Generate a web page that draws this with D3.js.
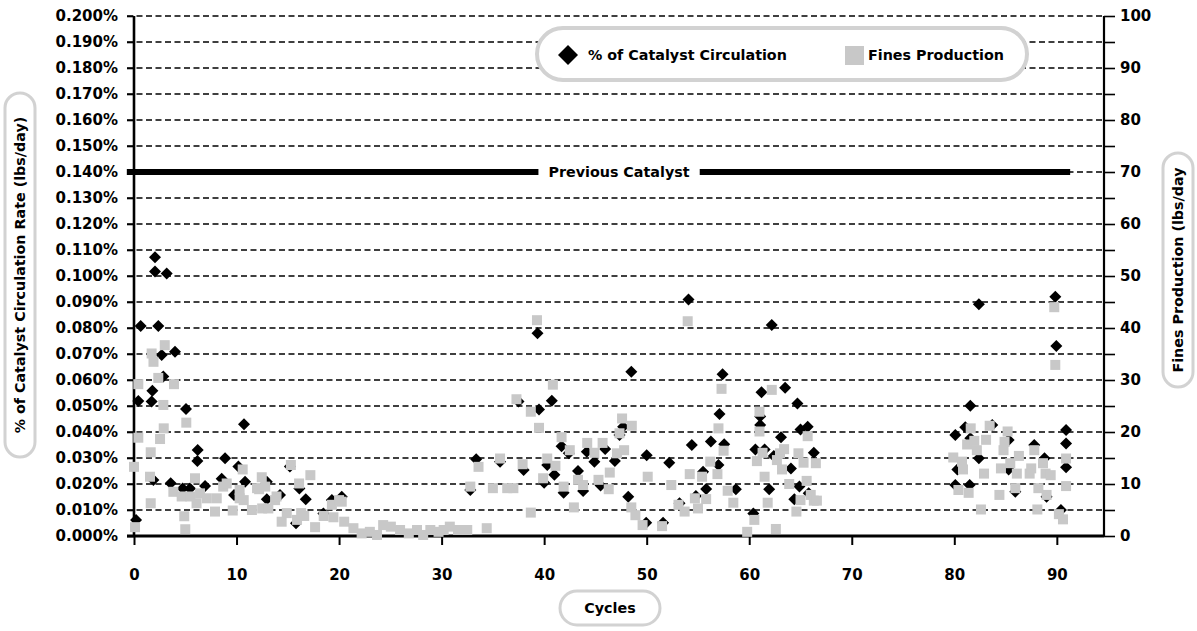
<!DOCTYPE html>
<html><head><meta charset="utf-8">
<script src="https://cdn.jsdelivr.net/npm/d3@7"></script>
<style>
html,body{margin:0;padding:0;background:#fff;}
svg{display:block;font-family:"DejaVu Sans",sans-serif;font-weight:bold;}
</style></head>
<body><svg id="chart" width="1197" height="631"></svg>
<script>
// ---- data (cycle, value) ----
const catalystCirculation = [
[0.2,0.0062],[0.42,0.0519],[0.65,0.0808],[1.72,0.0517],[1.79,0.0559],[1.89,0.0215],[2.05,0.1072],[2.05,0.1017],
[2.37,0.0808],[2.7,0.0696],[2.86,0.0613],[3.19,0.101],[3.58,0.0203],[4.0,0.0709],[4.75,0.0183],[5.07,0.0488],
[5.46,0.0183],[6.18,0.0288],[6.21,0.0331],[6.93,0.0192],[8.55,0.022],[8.88,0.0299],[9.76,0.0158],[10.18,0.0267],
[10.73,0.043],[10.83,0.0209],[12.95,0.0209],[12.95,0.0141],[14.24,0.0158],[15.2,0.0267],[15.8,0.0049],[16.13,0.0183],
[16.75,0.0141],[18.47,0.0087],[19.3,0.0138],[20.26,0.0151],[32.8,0.0177],[33.37,0.0295],[35.7,0.0286],[37.5,0.0517],
[38.0,0.0254],[39.35,0.078],[39.5,0.0487],[40.0,0.0205],[40.3,0.0273],[40.75,0.052],[41.0,0.0236],[41.7,0.0345],
[41.9,0.0166],[42.4,0.0318],[43.3,0.025],[43.8,0.0173],[44.16,0.0324],[44.9,0.0286],[45.5,0.0194],[45.95,0.0335],
[46.9,0.0288],[47.35,0.0388],[47.7,0.042],[48.2,0.0151],[48.5,0.0632],[49.95,0.0051],[50.0,0.0311],[51.6,0.0051],
[52.2,0.0282],[53.2,0.0126],[54.08,0.091],[54.4,0.035],[54.8,0.0154],[55.5,0.0247],[55.8,0.0181],[56.26,0.0363],
[57.0,0.0273],[57.1,0.0469],[57.4,0.0622],[57.56,0.0353],[58.7,0.018],[60.4,0.0087],[60.6,0.0333],[61.07,0.046],
[61.07,0.0427],[61.2,0.0553],[61.5,0.0333],[61.95,0.018],[62.2,0.0812],[62.4,0.0308],[63.1,0.038],[63.5,0.057],
[64.07,0.026],[64.4,0.0141],[64.7,0.051],[64.9,0.019],[65.0,0.041],[65.7,0.042],[65.8,0.0164],[66.3,0.032],
[80.1,0.0388],[80.1,0.0196],[80.3,0.0256],[81.07,0.0418],[81.5,0.0196],[81.56,0.0501],[81.56,0.0376],[82.4,0.0299],
[82.4,0.0891],[83.7,0.0427],[85.3,0.0369],[85.3,0.0256],[85.95,0.017],[87.8,0.035],[88.8,0.0299],[89.0,0.0151],
[89.85,0.092],[89.95,0.0731],[90.4,0.01],[90.9,0.0408],[90.9,0.0356],[90.9,0.0264]
];
const finesProduction = [
[0,13.3],[0.1,1.7],[0.42,29.2],[0.42,18.9],[1.56,11.4],[1.63,16.1],[1.63,6.3],[1.72,35.1],[1.9,33.5],[2.37,30.4],
[2.54,18.65],[2.86,25.2],[2.9,20.7],[3.0,36.7],[3.84,8.5],[3.9,29.2],[4.65,7.6],[4.9,3.8],[5.0,1.3],[5.1,21.8],
[5.5,7.6],[5.95,11.1],[6.1,6.3],[6.44,8.2],[7.1,7.25],[7.9,4.7],[8.07,7.25],[8.7,9.5],[9.04,10.1],[9.63,4.9],
[10.3,8.85],[10.3,7.25],[10.6,12.8],[10.7,6.9],[11.5,5.0],[12.0,9.2],[12.2,9.0],[12.46,11.3],[12.8,9.5],[12.5,5.3],
[13.1,5.3],[13.76,6.9],[13.9,7.6],[14.4,2.75],[14.9,4.4],[15.3,13.65],[15.9,3.1],[16.1,10.1],[16.3,4.4],[16.6,3.85],
[17.2,11.7],[17.66,1.7],[18.5,3.85],[19.3,6.0],[19.45,3.6],[20.0,6.9],[20.26,6.6],[20.5,2.75],[21.4,1.5],[22.2,0.5],
[23.0,0.8],[23.7,0.2],[24.3,2.1],[25.05,1.8],[25.95,1.15],[26.8,0.5],[27.6,1.15],[28.2,0.2],[28.9,1.15],[29.7,0.8],
[30.2,1.15],[30.8,1.8],[31.6,1.15],[32.5,1.15],[32.8,9.5],[33.6,13.3],[34.4,1.5],[35.0,9.2],[35.7,14.9],[36.4,9.2],
[37.0,9.2],[37.3,26.3],[37.9,13.8],[38.7,23.9],[38.7,4.5],[39.3,41.5],[39.5,20.8],[39.9,11.1],[40.3,14.9],[40.85,29.1],
[41.1,13.5],[41.7,19.0],[41.9,9.5],[42.5,16.5],[42.9,5.5],[43.3,10.8],[43.8,9.8],[44.2,17.9],[44.9,16.0],[45.3,10.8],
[45.7,17.9],[46.3,9.0],[46.4,12.2],[47.1,15.9],[47.35,19.75],[47.6,22.6],[47.8,16.5],[48.5,5.5],[48.55,21.2],[48.9,4.0],
[49.6,2.1],[50.1,11.4],[51.5,1.9],[52.4,9.8],[53.1,6.0],[53.7,4.7],[54.0,41.3],[54.2,11.9],[54.7,7.25],[55.0,5.3],
[55.4,11.4],[55.8,7.1],[56.2,14.3],[56.9,11.9],[57.0,20.7],[57.3,28.3],[57.5,16.4],[57.9,8.7],[58.45,6.4],[59.8,0.8],
[60.5,3.1],[60.75,14.4],[61.0,23.9],[61.0,20.1],[61.3,16.0],[61.5,11.4],[61.8,6.4],[62.2,28.1],[62.6,1.35],[62.7,14.6],
[63.0,15.9],[63.2,12.8],[63.4,16.7],[63.9,10.0],[64.6,4.7],[64.8,15.9],[65.0,6.9],[65.3,14.1],[65.6,10.6],[65.7,19.2],
[66.0,7.9],[66.3,6.8],[66.5,14.0],[66.6,6.8],[79.9,15.1],[80.4,8.85],[80.75,14.3],[80.85,12.8],[81.25,17.6],[81.4,8.3],
[81.6,20.7],[81.95,18.3],[82.2,16.5],[82.6,5.1],[82.9,12.0],[83.1,18.5],[83.45,21.2],[84.4,7.9],[84.55,13.0],[84.8,16.5],
[84.9,18.1],[85.2,20.1],[85.46,14.0],[85.95,9.2],[86.1,12.0],[86.3,15.4],[87.35,12.0],[87.5,13.0],[87.8,16.5],[88.1,5.1],
[88.2,9.2],[88.65,14.0],[88.9,12.0],[89.0,7.9],[89.4,11.7],[89.75,44.0],[89.85,32.9],[90.2,4.2],[90.6,3.2],[90.9,14.9],
[90.9,9.6]
];
const previousCatalyst = {value: 0.14, start: -0.7, end: 91.3, label: "Previous Catalyst"};
const xTicks = [0,10,20,30,40,50,60,70,80,90];
const leftTicks = d3.range(0, 21).map(i => i * 0.01);   // percent values
const rightTicks = d3.range(0, 21).map(i => i * 5);      // lbs/day
const seriesNames = ["% of Catalyst Circulation", "Fines Production"];
const axisTitles = {left: "% of Catalyst Circulation Rate (lbs/day)", right: "Fines Production (lbs/day", bottom: "Cycles"};

// ---- layout ----
const svg = d3.select("#chart");
const L = 134, R = 1104, T = 16, B = 536;
const FS = "14.3px", TFS = "15px";
const x = d3.scaleLinear().domain([0, 94.6]).range([L, R]);
const yL = d3.scaleLinear().domain([0, 0.2]).range([B, T]);
const yR = d3.scaleLinear().domain([0, 100]).range([B, T]);
const grey = "#c8c8c8", pill = "#d2d2d2";

function styleText(sel, size) {
  sel.attr("font-size", size).attr("font-family", "DejaVu Sans").attr("font-weight", "bold").attr("fill", "#000");
}

// gridlines (dashed)
svg.append("g").selectAll("line").data(leftTicks.slice(1)).join("line")
  .attr("x1", L - 7).attr("x2", R).attr("y1", d => yL(d)).attr("y2", d => yL(d))
  .attr("stroke", "#000").attr("stroke-width", 1.6).attr("stroke-dasharray", "6,3.5");

// left axis
const gL = svg.append("g").attr("transform", `translate(${L},0)`)
  .call(d3.axisLeft(yL).tickValues(leftTicks).tickSize(7).tickPadding(9)
    .tickFormat(d => d3.format(".3f")(d) + "%"));
gL.select(".domain").attr("stroke-width", 2.6).attr("d", `M0,${T}V${B}`);
gL.selectAll("line").attr("stroke-width", 1.6);
styleText(gL.selectAll("text"), TFS);

// right axis
const gR = svg.append("g").attr("transform", `translate(${R},0)`)
  .call(d3.axisRight(yR).tickValues(rightTicks).tickSize(11).tickPadding(5)
    .tickFormat(d => d % 10 === 0 ? d : ""));
gR.select(".domain").attr("stroke-width", 2.2).attr("d", `M0,${T}V${B}`);
gR.selectAll("line").attr("stroke-width", 1.6);
styleText(gR.selectAll("text"), TFS);

// bottom axis
const gB = svg.append("g").attr("transform", `translate(0,${B})`)
  .call(d3.axisBottom(x).tickValues(xTicks).tickSize(9).tickPadding(24));
gB.select(".domain").attr("stroke-width", 3).attr("d", `M${L - 7},0H${R}`);
gB.selectAll("line").attr("stroke-width", 2);
styleText(gB.selectAll("text"), TFS);

// previous catalyst line
const pcY = yL(previousCatalyst.value);
const pcG = svg.append("g");
pcG.append("line").attr("x1", x(previousCatalyst.start)).attr("x2", x(previousCatalyst.end))
  .attr("y1", pcY).attr("y2", pcY).attr("stroke", "#000").attr("stroke-width", 6);
const pcBg = pcG.append("rect").attr("fill", "#fff");
const pcText = pcG.append("text").attr("x", 619).attr("y", pcY).attr("dy", "0.35em")
  .attr("text-anchor", "middle").text(previousCatalyst.label);
styleText(pcText, FS);
const bb = pcText.node().getBBox();
pcBg.attr("x", bb.x - 10).attr("y", pcY - 10).attr("width", bb.width + 20).attr("height", 20);

// diamonds
const diamond = "M0,-6L6,0L0,6L-6,0Z";
svg.append("g").selectAll("path").data(catalystCirculation).join("path")
  .attr("d", diamond).attr("transform", d => `translate(${x(d[0])},${yL(d[1])})`)
  .attr("fill", "#000");

// squares (on top)
svg.append("g").selectAll("rect").data(finesProduction).join("rect")
  .attr("x", d => x(d[0]) - 5).attr("y", d => yR(d[1]) - 5)
  .attr("width", 10).attr("height", 10).attr("fill", grey);

// legend
const lg = svg.append("g");
lg.append("rect").attr("x", 537).attr("y", 28).attr("width", 490).attr("height", 52).attr("rx", 26)
  .attr("fill", "#fff").attr("stroke", pill).attr("stroke-width", 4);
lg.append("path").attr("d", "M0,-10L10,0L0,10L-10,0Z").attr("transform", "translate(568,55)").attr("fill", "#000");
styleText(lg.append("text").attr("x", 588).attr("y", 55).attr("dy", "0.35em").text(seriesNames[0]), FS);
lg.append("rect").attr("x", 845).attr("y", 46).attr("width", 19).attr("height", 19).attr("fill", grey);
styleText(lg.append("text").attr("x", 868).attr("y", 55).attr("dy", "0.35em").text(seriesNames[1]), FS);

// axis titles in pills
function pillTitle(cx, cy, w, h, rot, txt) {
  const g = svg.append("g").attr("transform", `translate(${cx},${cy}) rotate(${rot})`);
  g.append("rect").attr("x", -w / 2).attr("y", -h / 2).attr("width", w).attr("height", h).attr("rx", h / 2)
    .attr("fill", "#fff").attr("stroke", pill).attr("stroke-width", 3);
  styleText(g.append("text").attr("text-anchor", "middle").attr("dy", "0.35em").text(txt), FS);
}
pillTitle(20, 275, 364, 30, -90, axisTitles.left);
pillTitle(1178, 270, 234, 30, -90, axisTitles.right);
pillTitle(610, 608, 100, 34, 0, axisTitles.bottom);
</script></body></html>
